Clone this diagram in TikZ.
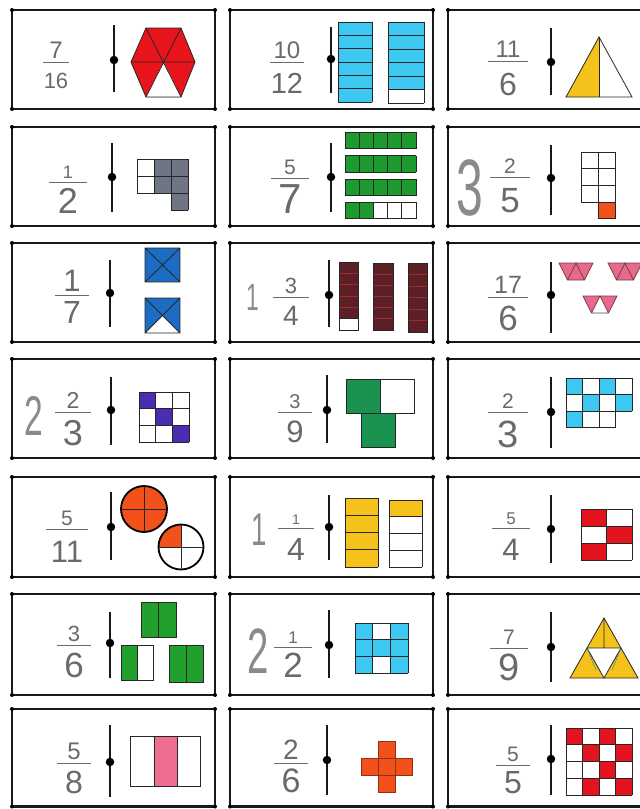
\documentclass[tikz,border=0pt]{standalone}
\usepackage{fontspec}
\setsansfont{Liberation Sans}
\usepackage{graphicx}
\definecolor{digit}{HTML}{6A6A6A}
\definecolor{bigdigit}{HTML}{8A8A8A}
\definecolor{hexred}{HTML}{E8141C}
\definecolor{cyanb}{HTML}{3CC8F0}
\definecolor{yel}{HTML}{F5C21B}
\definecolor{grayc}{HTML}{707585}
\definecolor{grn}{HTML}{1E9B30}
\definecolor{ored}{HTML}{F2511B}
\definecolor{blu}{HTML}{1C6CC4}
\definecolor{brn}{HTML}{5C1F26}
\definecolor{brline}{HTML}{9A2A33}
\definecolor{pnk}{HTML}{E56A8C}
\definecolor{purp}{HTML}{4A2DB0}
\definecolor{grn2}{HTML}{1A9250}
\definecolor{red2}{HTML}{E3141E}
\definecolor{grn3}{HTML}{22A02E}
\definecolor{pink2}{HTML}{EE6E92}
\tikzset{
  cardline/.style={line width=2.5pt, draw=black!90},
  sepline/.style={line width=1.8pt, draw=black!90},
  sepdot/.style={circle, fill=black, inner sep=0pt, minimum size=8.5pt},
  gl/.style={line width=0.8pt, draw=black!85},
  fbar/.style={line width=0.9pt, draw=digit},
  digtxt/.style={anchor=base, inner sep=0pt, text depth=0pt, text=digit},
  bigtxt/.style={anchor=base, inner sep=0pt, text depth=0pt, text=bigdigit},
  circline/.style={line width=1.8pt, draw=black},
}
\newcommand\frc[9]{%
  \node[digtxt, font={\fontsize{#7}{#7}\selectfont\sffamily}] (#1n) at (#2,{#3-4}) {#5};
  \draw[fbar] ({#2-#4},#3) -- ({#2+#4},#3);
  \node[digtxt, font={\fontsize{#8}{#8}\selectfont\sffamily}] (#1d) at (#2,#9) {#6};
}
\newcommand\wholenum[5]{%
  \node[bigtxt, font={\fontsize{#4}{#4}\selectfont\sffamily}] (#1) at (#2,#3) {\scalebox{0.6}[1]{#5}};
}
\newcommand\sepr[5]{%
  \draw[sepline] (#2,#3) -- (#2,#4);
  \node[sepdot] (#1) at (#2,#5) {};
}
\newcommand\gridlines[6]{%
  \foreach \i in {0,...,#3} \draw[gl] ({#1+\i*#5},{#2}) -- ++(0,{#4*#6});
  \foreach \j in {0,...,#4} \draw[gl] ({#1},{#2+\j*#6}) -- ++({#3*#5},0);
}
\newcommand\cardbox[4]{%
  \draw[cardline] (#1,#2) rectangle (#3,#4);
  \foreach \p in {(#1,#2),(#3,#2),(#1,#4),(#3,#4)} \fill[black] \p circle (2);
}
\newcommand\cardopen[3]{%
  \draw[cardline] (640,#2) -- (#1,#2) -- (#1,#3) -- (640,#3);
  \foreach \p in {(#1,#2),(#1,#3)} \fill[black] \p circle (2);
}
\begin{document}
\begin{tikzpicture}[x=1pt,y=-1pt]
\useasboundingbox (0,0) rectangle (640,809);
\fill[white] (0,0) rectangle (640,809);

% ---------- cards ----------
\foreach \t/\b in {10/109,127/226,243/342,359/458,477/577,594/695,709/806.5}{
  \cardbox{12}{\t}{215}{\b}
  \cardbox{230}{\t}{433}{\b}
  \cardopen{448}{\t}{\b}
}

% ================= ROW 1 =================
\frc{f11}{56}{62}{13}{7}{16}{24}{22}{88}
\sepr{s11}{114}{25}{92}{60}
\fill[hexred] (131,62) -- (146,28) -- (181,28) -- (195,62) -- (181,97) -- (146,97) -- cycle;
\fill[white] (163.5,62) -- (181,97) -- (146,97) -- cycle;
\draw[gl] (131,62) -- (146,28) -- (181,28) -- (195,62) -- (181,97) -- (146,97) -- cycle;
\draw[gl] (131,62) -- (195,62) (146,28) -- (181,97) (181,28) -- (146,97);

\frc{f12}{287}{62}{17}{10}{12}{24}{29}{93}
\sepr{s12}{331}{27}{93}{59}
\fill[cyanb] (338,22) rectangle (372,102);
\gridlines{338}{22}{1}{6}{34}{13.333}
\fill[cyanb] (388,22) rectangle (424,89.5);
\gridlines{388}{22}{1}{6}{36}{13.5}

\frc{f13}{508}{61}{20}{11}{6}{24}{32}{95}
\sepr{s13}{551}{28}{95}{62}
\fill[yel] (599,37) -- (566,97) -- (599,97) -- cycle;
\draw[gl] (599,37) -- (566,97) -- (632,97) -- cycle;
\draw[gl] (599,37) -- (599,97);

% ================= ROW 2 =================
\frc{f21}{68}{182}{19}{1}{2}{18}{36}{213}
\sepr{s21}{112}{143}{212}{177}
\fill[grayc] (154,159) rectangle (188,193);
\fill[grayc] (171,193) rectangle (188,210);
\gridlines{137}{159}{3}{2}{17}{17}
\gridlines{171}{193}{1}{1}{17}{17}

\frc{f22}{290}{178}{19}{5}{7}{21}{42}{213}
\sepr{s22}{331}{143}{212}{177}
\foreach \yy/\nn in {132/5,155.5/5,179/5,202/2}{
  \fill[grn] (345,\yy) rectangle ({345+\nn*14.2},{\yy+16.5});
  \gridlines{345}{\yy}{5}{1}{14.2}{16.5}
}

\wholenum{w23}{470}{215}{80}{3}
\frc{f23}{510}{177}{20}{2}{5}{21}{35}{212}
\sepr{s23}{551}{145}{215}{178}
\gridlines{581}{152}{2}{3}{17}{16.67}
\fill[ored] (598,202) rectangle (615,218.5);
\draw[gl] (598,202) rectangle (615,218.5);

% ================= ROW 3 =================
\frc{f31}{72}{295}{17}{1}{7}{31}{32}{323}
\sepr{s31}{110}{260}{327}{293}
\fill[blu] (145,248) rectangle (180,282);
\draw[gl] (145,248) rectangle (180,282) (145,248) -- (180,282) (180,248) -- (145,282);
\fill[blu] (145,298) rectangle (180,333);
\fill[white] (145,333) -- (180,333) -- (162.5,315.5) -- cycle;
\draw[gl] (145,298) rectangle (180,333) (145,298) -- (180,333) (180,298) -- (145,333);

\wholenum{w32}{253}{310}{38}{1}
\frc{f32}{291}{297}{18}{3}{4}{22}{28}{325}
\sepr{s32}{329}{260}{327}{295}
\fill[brn] (339,262) rectangle (358,318.7);
\foreach \k in {1,...,4} \draw[line width=0.8pt, brline] (339,{262+\k*11.33}) -- (358,{262+\k*11.33});
\draw[gl] (339,262) rectangle (358,330) (339,318.7) -- (358,318.7);
\fill[brn] (373,263) rectangle (393,330);
\foreach \k in {1,...,5} \draw[line width=0.8pt, brline] (373,{263+\k*11.17}) -- (393,{263+\k*11.17});
\draw[gl] (373,263) rectangle (393,330);
\fill[brn] (408,263) rectangle (427,332);
\foreach \k in {1,...,5} \draw[line width=0.8pt, brline] (408,{263+\k*11.5}) -- (427,{263+\k*11.5});
\draw[gl] (408,263) rectangle (427,332);

\frc{f33}{508}{297}{20}{17}{6}{25}{35}{330}
\sepr{s33}{551}{262}{333}{295}
\foreach \xo/\yo in {559/263,608/263,583/296}{
  \fill[pnk] (\xo,\yo) -- ({\xo+34},\yo) -- ({\xo+25.5},{\yo+17}) -- ({\xo+8.5},{\yo+17}) -- cycle;
}
\fill[white] (591.5,313) -- (608.5,313) -- (600,296) -- cycle;
\foreach \xo/\yo in {559/263,608/263,583/296}{
  \draw[line width=0.8pt, draw=pnk!55!black] (\xo,\yo) -- ({\xo+34},\yo) -- ({\xo+25.5},{\yo+17}) -- ({\xo+8.5},{\yo+17}) -- cycle
    ({\xo+8.5},{\yo+17}) -- ({\xo+17},\yo) -- ({\xo+25.5},{\yo+17});
}

% ================= ROW 4 =================
\wholenum{w41}{34}{435}{56}{2}
\frc{f41}{73}{412}{18}{2}{3}{23}{36}{445}
\sepr{s41}{111}{377}{445}{410}
\foreach \c/\r in {0/0,1/1,2/2} \fill[purp] ({139+\c*16.67},{392+\r*16.67}) rectangle ++(16.67,16.67);
\gridlines{139}{392}{3}{3}{16.67}{16.67}

\frc{f42}{295}{412}{17}{3}{9}{20}{31}{442}
\sepr{s42}{327}{375}{443}{410}
\fill[grn2] (346,379) rectangle (380,413);
\fill[grn2] (361,413) rectangle (395,447);
\draw[gl] (346,379) rectangle (380,413) (380,379) rectangle (414,413) (361,413) rectangle (395,447);

\frc{f43}{508}{412}{20}{2}{3}{21}{38}{447}
\sepr{s43}{551}{377}{448}{412}
\foreach \c/\r in {0/0,2/0,1/1,3/1,0/2} \fill[cyanb] ({566+\c*16.5},{378+\r*16.5}) rectangle ++(16.5,16.5);
\gridlines{566}{378}{4}{2}{16.5}{16.5}
\gridlines{566}{411}{3}{1}{16.5}{16.5}

% ================= ROW 5 =================
\frc{f51}{67}{529}{21}{5}{11}{21}{31}{562}
\sepr{s51}{111}{492}{560}{527}
\fill[ored] (144,509) circle (23);
\draw[circline] (144,509) circle (23);
\draw[gl] (121,509) -- (167,509) (144,486) -- (144,532);
\begin{scope}
  \clip (181,547) circle (22.5);
  \fill[ored] (158,524) rectangle (181,547);
\end{scope}
\draw[circline] (181,547) circle (22.5);
\draw[gl] (158.5,547) -- (203.5,547) (181,524.5) -- (181,569.5);

\wholenum{w52}{259}{545}{46}{1}
\frc{f52}{296}{528}{18}{1}{4}{14}{32}{560}
\sepr{s52}{329}{495}{560}{527}
\fill[yel] (345,498) rectangle (378,567);
\gridlines{345}{498}{1}{4}{33}{17.25}
\fill[yel] (389,500) rectangle (422,516.75);
\gridlines{389}{500}{1}{4}{33}{16.75}

\frc{f53}{511}{528}{19}{5}{4}{17}{31}{560}
\sepr{s53}{551}{495}{563}{529}
\foreach \c/\r in {0/0,1/1,0/2} \fill[red2] ({581+\c*25.5},{509+\r*17}) rectangle ++(25.5,17);
\gridlines{581}{509}{2}{3}{25.5}{17}

% ================= ROW 6 =================
\frc{f61}{74}{645}{17}{3}{6}{22}{35}{677}
\sepr{s61}{110}{612}{678}{643}
\fill[grn3] (141,602) rectangle (176,637);
\draw[gl] (141,602) rectangle (176,637) (158.5,602) -- (158.5,637);
\fill[grn3] (121,645) rectangle (137,680);
\draw[gl] (121,645) rectangle (153,680) (137,645) -- (137,680);
\fill[grn3] (169,645) rectangle (203,682);
\draw[gl] (169,645) rectangle (203,682) (186,645) -- (186,682);

\wholenum{w62}{258}{673}{64}{2}
\frc{f62}{293}{647}{19}{1}{2}{17}{35}{677}
\sepr{s62}{329}{610}{678}{645}
\foreach \c/\r in {0/0,2/0,0/1,1/1,2/1,0/2,2/2} \fill[cyanb] ({355+\c*17.67},{623+\r*16.67}) rectangle ++(17.67,16.67);
\gridlines{355}{623}{3}{3}{17.67}{16.67}

\frc{f63}{509}{648}{19}{7}{9}{21}{38}{680}
\sepr{s63}{551}{612}{682}{647}
\coordinate (tA) at (604,618);
\coordinate (tL) at (570,678);
\coordinate (tR) at (638,678);
\coordinate (tML) at (587,648);
\coordinate (tMR) at (621,648);
\coordinate (tMB) at (604,678);
\coordinate (tMT) at (604,648);
\fill[yel] (tA) -- (tL) -- (tR) -- cycle;
\fill[white] (tML) -- (tMR) -- (tMB) -- cycle;
\draw[gl] (tA) -- (tL) -- (tR) -- cycle;
\draw[gl] (tML) -- (tMR) (tA) -- (tMT) (tML) -- (tMB) -- (tMR);
\draw[line width=0.5pt, draw=cyanb!70!black] (tML) -- (596,670) (tMR) -- (612,670);

% ================= ROW 7 =================
\frc{f71}{74}{763}{17}{5}{8}{24}{32}{793}
\sepr{s71}{110}{725}{797}{762}
\fill[pink2] (154,736) rectangle (177,786);
\draw[gl] (130,736) rectangle (200,786) (154,736) -- (154,786) (177,736) -- (177,786);

\frc{f72}{291}{763}{17}{2}{6}{28}{34}{792}
\sepr{s72}{327}{725}{795}{760}
\foreach \c/\r in {1/0,0/1,1/1,2/1,1/2}{
  \fill[ored] ({361+\c*17},{741+\r*17}) rectangle ++(17,17);
  \draw[line width=0.8pt, draw=ored!60!black] ({361+\c*17},{741+\r*17}) rectangle ++(17,17);
}

\frc{f73}{513}{765}{17}{5}{5}{21}{32}{793}
\sepr{s73}{551}{725}{795}{759}
\foreach \c/\r in {0/0,2/0,1/1,3/1,2/2,1/3,3/3} \fill[red2] ({566+\c*16.5},{728+\r*16.75}) rectangle ++(16.5,16.75);
\gridlines{566}{728}{4}{4}{16.5}{16.75}
\end{tikzpicture}
\end{document}
